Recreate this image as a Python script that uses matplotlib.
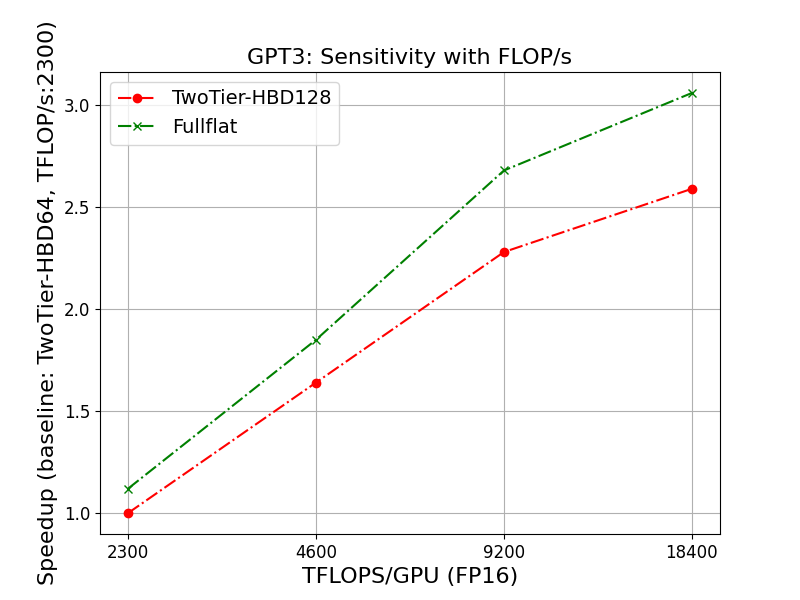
import matplotlib
matplotlib.use("Agg")
import matplotlib.pyplot as plt

flops = ["2300", "4600", "9200", "18400"]
twotier_hbd128 = [1.00, 1.64, 2.28, 2.59]
fullflat = [1.12, 1.85, 2.68, 3.06]

x = list(range(len(flops)))

plt.figure(figsize=(8, 6))
plt.plot(x, twotier_hbd128, 'r-.', marker='o', label='TwoTier-HBD128')
plt.plot(x, fullflat, 'g-.', marker='x', label='Fullflat')

plt.xticks(x, flops, fontsize=12)
plt.yticks(fontsize=12)
plt.xlabel('TFLOPS/GPU (FP16)', fontsize=16)
plt.ylabel('Speedup (baseline: TwoTier-HBD64, TFLOP/s:2300)', fontsize=16)
plt.title('GPT3: Sensitivity with FLOP/s', fontsize=16)
plt.legend(fontsize=14, loc='upper left')
plt.grid(True)
plt.savefig('out.png', dpi=100)
